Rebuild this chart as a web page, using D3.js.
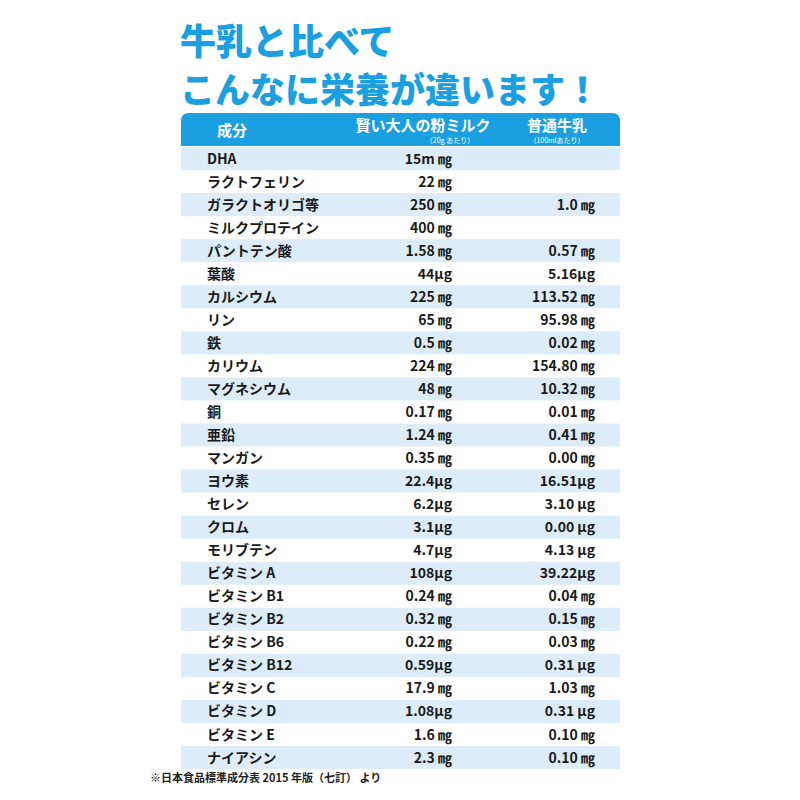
<!DOCTYPE html><html><head><meta charset="utf-8"><script src="https://cdn.jsdelivr.net/npm/d3@7"></script>
<style>body{margin:0;background:#fff}</style></head><body><svg id="c" width="800" height="800"></svg><script>
const nutrients=["DHA","ラクトフェリン","ガラクトオリゴ等","ミルクプロテイン","パントテン酸","葉酸","カルシウム","リン","鉄","カリウム","マグネシウム","銅","亜鉛","マンガン","ヨウ素","セレン","クロム","モリブテン","ビタミン A","ビタミン B1","ビタミン B2","ビタミン B6","ビタミン B12","ビタミン C","ビタミン D","ビタミン E","ナイアシン"];
const powder=["15m ㎎","22 ㎎","250 ㎎","400 ㎎","1.58 ㎎","44μg","225 ㎎","65 ㎎","0.5 ㎎","224 ㎎","48 ㎎","0.17 ㎎","1.24 ㎎","0.35 ㎎","22.4μg","6.2μg","3.1μg","4.7μg","108μg","0.24 ㎎","0.32 ㎎","0.22 ㎎","0.59μg","17.9 ㎎","1.08μg","1.6 ㎎","2.3 ㎎"];
const milk=["","","1.0 ㎎","","0.57 ㎎","5.16μg","113.52 ㎎","95.98 ㎎","0.02 ㎎","154.80 ㎎","10.32 ㎎","0.01 ㎎","0.41 ㎎","0.00 ㎎","16.51μg","3.10 μg","0.00 μg","4.13 μg","39.22μg","0.04 ㎎","0.15 ㎎","0.03 ㎎","0.31 μg","1.03 ㎎","0.31 μg","0.10 ㎎","0.10 ㎎"];
const F="'Noto Sans CJK JP','Noto Sans',sans-serif";
const svg=d3.select("#c").style("font-family",F);
const blue="#1a9fe0";
svg.append("text").attr("x",180).attr("y",55).attr("fill",blue).attr("font-size",36).attr("font-weight",900).text("牛乳と比べて");
svg.append("text").attr("x",180).attr("y",103).attr("fill",blue).attr("font-size",35).attr("font-weight",900).text("こんなに栄養が違います！");
const x0=181,x1=620;
const y=d3.scaleBand().domain(d3.range(nutrients.length)).range([147,147+23.04*nutrients.length]);
svg.append("path").attr("fill",blue).attr("d",`M${x0},146 V121 Q${x0},113 ${x0+8},113 H${x1-8} Q${x1},113 ${x1},121 V146 Z`);
const h=[["成分",232,136,15],["賢い大人の粉ミルク",423,131,15],["普通牛乳",557,131,15]];
h.forEach(d=>svg.append("text").attr("x",d[1]).attr("y",d[2]).attr("text-anchor","middle").attr("fill","#fff").attr("font-size",d[3]).attr("font-weight",700).text(d[0]));
svg.append("text").attr("x",450).attr("y",143).attr("text-anchor","middle").attr("fill","#fff").attr("font-size",7).text("（20g あたり）");
svg.append("text").attr("x",557).attr("y",143).attr("text-anchor","middle").attr("fill","#fff").attr("font-size",7).text("（100mlあたり）");
const g=svg.selectAll("g.r").data(nutrients).join("g").attr("transform",(d,i)=>`translate(0,${y(i)})`);
g.filter((d,i)=>i%2==0).append("rect").attr("x",x0).attr("width",x1-x0).attr("height",y.bandwidth()).attr("fill","#dcedf9");
const t=(sel,x,anchor,f)=>sel.append("text").attr("x",x).attr("y",16.5).attr("text-anchor",anchor).attr("font-size",14).attr("font-weight",700).attr("fill","#1a1a1a").text(f);
t(g,207,"start",d=>d);
t(g,452,"end",(d,i)=>powder[i]);
t(g,595,"end",(d,i)=>milk[i]);
svg.append("text").attr("x",150).attr("y",782).attr("font-size",11).attr("font-weight",700).attr("fill","#222").text("※日本食品標準成分表 2015 年版（七訂） より");
</script></body></html>
